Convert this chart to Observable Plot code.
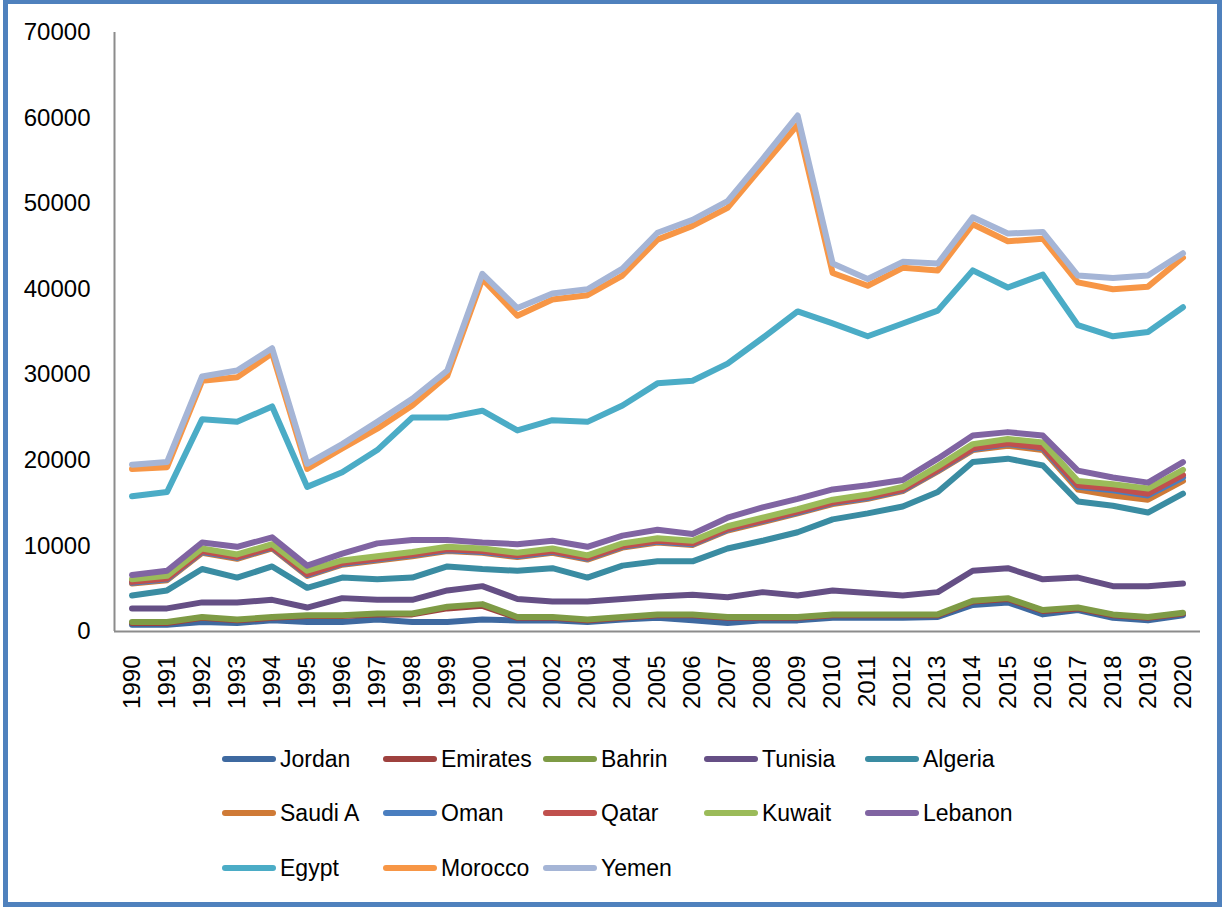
<!DOCTYPE html>
<html><head><meta charset="utf-8">
<script src="https://cdn.jsdelivr.net/npm/d3@7"></script>
<script src="https://cdn.jsdelivr.net/npm/@observablehq/plot@0.6"></script>
<style>
body{margin:0;background:#fff;font-family:"Liberation Sans",Arial,sans-serif;}
#frame{position:absolute;left:3px;top:-1px;width:1209px;height:898px;border:5px solid #4F81BD;}
#chart{position:absolute;left:0;top:0;}
.leg{position:absolute;display:flex;align-items:center;font-size:23px;color:#000;white-space:nowrap;height:30px;}
.sw{width:54px;height:6px;border-radius:3px;margin-right:4px;}
</style></head>
<body>
<div id="frame"></div>
<div id="chart"></div>
<div id="legend"></div>
<script>
const years = d3.range(1990, 2021);
const countries = ["Jordan","Emirates","Bahrin","Tunisia","Algeria","Saudi A","Oman","Qatar","Kuwait","Lebanon","Egypt","Morocco","Yemen"];
const colors = ["#3E69A0","#9E413E","#7E9B45","#654F85","#3A8CA2","#CF7A36","#4A7EBF","#C0504D","#9BBB59","#8064A2","#4BACC6","#F79646","#A5B5D6"];
const yTicks = [0,10000,20000,30000,40000,50000,60000,70000];

const jordan   = [800,800,1100,1000,1300,1100,1100,1400,1100,1100,1400,1300,1300,1100,1400,1600,1300,1000,1300,1300,1600,1600,1600,1700,3100,3400,2000,2500,1600,1300,1900];
const emirates = [1000,1000,1600,1300,1600,1800,1800,2000,2000,2700,3000,1600,1600,1300,1600,1900,1900,1600,1600,1600,1900,1900,1900,1900,3500,3800,2400,2700,1900,1600,2100];
const bahrin   = [1100,1100,1700,1400,1700,1900,1900,2100,2100,2900,3200,1700,1700,1400,1700,2000,2000,1700,1700,1700,2000,2000,2000,2000,3600,3900,2500,2800,2000,1700,2200];
const tunisia  = [2700,2700,3400,3400,3700,2800,3900,3700,3700,4800,5300,3800,3500,3500,3800,4100,4300,4000,4600,4200,4800,4500,4200,4600,7100,7400,6100,6300,5300,5300,5600];
const algeria  = [4200,4800,7300,6300,7600,5100,6300,6100,6300,7600,7300,7100,7400,6300,7700,8200,8200,9700,10600,11600,13100,13800,14600,16300,19800,20200,19400,15200,14700,13900,16100];
const saudi    = [5600,6000,9200,8500,9700,6500,7800,8300,8800,9400,9200,8700,9200,8400,9800,10400,10100,11800,12800,13800,14900,15500,16400,18700,21200,21700,21200,16600,15900,15400,17600];
const oman     = [5700,6100,9300,8600,9800,6600,7900,8400,8900,9500,9300,8800,9300,8500,9900,10500,10200,11900,12900,13900,15000,15600,16500,18800,21300,21900,21400,16900,16500,15900,18000];
const qatar    = [5800,6200,9400,8700,9900,6700,8000,8500,9000,9600,9400,8900,9400,8600,10000,10600,10300,12000,13000,14000,15100,15700,16600,18900,21400,22000,21500,17100,16700,16100,18300];
const kuwait   = [6100,6500,9700,9000,10200,7100,8300,8800,9300,9900,9700,9200,9700,8900,10300,10900,10600,12300,13300,14300,15400,16000,16900,19300,21900,22500,22100,17600,17200,16700,18900];
const lebanon  = [6600,7100,10400,9900,11000,7700,9100,10300,10700,10700,10400,10200,10600,9900,11200,11900,11400,13300,14500,15500,16600,17100,17700,20200,22900,23300,22900,18800,18000,17400,19800];
const egypt    = [15800,16300,24800,24500,26300,16900,18600,21200,25000,25000,25800,23500,24700,24500,26400,29000,29300,31300,34300,37400,36000,34500,36000,37500,42200,40200,41700,35800,34500,35000,37900];
const morocco  = [19000,19200,29300,29700,32500,19000,21400,23700,26400,29900,41200,36900,38800,39300,41600,45800,47400,49500,54400,59200,41900,40400,42500,42200,47600,45600,45900,40800,40000,40300,43700];
const yemen    = [19500,19800,29800,30500,33100,19600,21900,24500,27200,30500,41800,37800,39500,40000,42400,46600,48100,50300,55200,60300,43000,41200,43200,43000,48400,46500,46700,41600,41300,41600,44200];

const series = [jordan,emirates,bahrin,tunisia,algeria,saudi,oman,qatar,kuwait,lebanon,egypt,morocco,yemen];
const data = [];
countries.forEach((c, i) => years.forEach((yr, j) => data.push({country: c, year: yr, value: series[i][j]})));

const chart = Plot.plot({
  width: 1226, height: 740,
  marginLeft: 114, marginRight: 26, marginTop: 32, marginBottom: 109,
  style: {fontFamily: "'Liberation Sans', Arial, sans-serif", fontSize: "24px", color: "#000", background: "transparent"},
  x: {domain: [1989.5, 2020.5]},
  y: {domain: [0, 70000]},
  color: {domain: countries, range: colors},
  marks: [
    Plot.axisY({ticks: yTicks, tickSize: 0, tickPadding: 24, tickFormat: d => String(d), label: null, fontSize: 24}),
    Plot.axisX({ticks: years, tickSize: 0, tickPadding: 24, tickRotate: -90, tickFormat: d => String(d), label: null, fontSize: 24}),
    Plot.ruleX([1989.5], {stroke: "#8c8c8c", strokeWidth: 2}),
    Plot.ruleY([0], {stroke: "#8c8c8c", strokeWidth: 2}),
    Plot.lineY(data, {x: "year", y: "value", z: "country", stroke: "country", strokeWidth: 6, strokeLinejoin: "round", strokeLinecap: "round"})
  ]
});
document.getElementById("chart").appendChild(chart);

const leg = document.getElementById("legend");
const colX = [222, 383, 543, 704, 865];
const rowY = [759, 813, 868];
countries.forEach((c, i) => {
  const d = document.createElement("div");
  d.className = "leg";
  d.style.left = colX[i % 5] + "px";
  d.style.top = (rowY[Math.floor(i / 5)] - 15) + "px";
  const s = document.createElement("span");
  s.className = "sw";
  s.style.background = colors[i];
  d.appendChild(s);
  d.appendChild(document.createTextNode(c));
  leg.appendChild(d);
});
</script>
</body></html>
